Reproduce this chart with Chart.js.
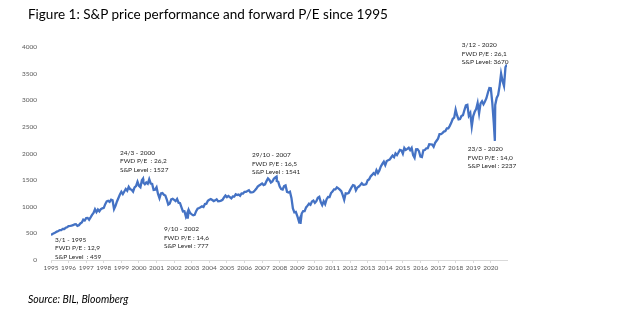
<!DOCTYPE html>
<html>
<head>
<meta charset="utf-8">
<script src="https://cdn.jsdelivr.net/npm/chart.js@4.4.0/dist/chart.umd.min.js"></script>
<style>
  body { margin: 0; background: #fff; }
  #wrap { position: relative; width: 628px; height: 321px; }
  #title { position: absolute; left: 28px; top: 6px; font: 13.5px Lato, sans-serif; color: #000; white-space: nowrap; }
  #source { position: absolute; left: 28px; top: 293px; font: italic 10.5px Lato, sans-serif; color: #000; }
  canvas { position: absolute; left: 0; top: 0; }
</style>
</head>
<body>
<div id="wrap">
  <canvas id="chart" width="628" height="321"></canvas>
  <div id="title">Figure 1: S&amp;P price performance and forward P/E since 1995</div>
  <div id="source">Source: BIL, Bloomberg</div>
</div>
<script>
// monthly S&P 500 levels, 1995 - 2020
var years = [1995, 1996, 1997, 1998, 1999, 2000, 2001, 2002, 2003, 2004, 2005, 2006, 2007,
             2008, 2009, 2010, 2011, 2012, 2013, 2014, 2015, 2016, 2017, 2018, 2019, 2020];
var monthly = [
  [470, 487, 501, 515, 533, 545, 562, 562, 584, 582, 605, 616],
  [636, 640, 645, 654, 669, 671, 640, 652, 687, 705, 757, 741],
  [786, 791, 757, 801, 848, 885, 954, 899, 947, 915, 955, 970],
  [980, 1049, 1102, 1112, 1091, 1134, 1121, 957, 1017, 1099, 1164, 1229],
  [1280, 1238, 1286, 1335, 1302, 1373, 1329, 1320, 1283, 1363, 1389, 1469],
  [1394, 1366, 1499, 1452, 1421, 1455, 1431, 1518, 1437, 1429, 1315, 1320],
  [1366, 1240, 1160, 1249, 1256, 1224, 1211, 1134, 1041, 1060, 1139, 1148],
  [1130, 1107, 1147, 1076, 1067, 990, 912, 916, 815, 886, 936, 880],
  [856, 841, 848, 917, 964, 975, 990, 1008, 996, 1051, 1058, 1112],
  [1131, 1145, 1126, 1107, 1121, 1141, 1102, 1104, 1115, 1130, 1174, 1212],
  [1181, 1204, 1181, 1157, 1192, 1191, 1234, 1220, 1229, 1207, 1249, 1248],
  [1280, 1281, 1295, 1311, 1270, 1270, 1277, 1304, 1336, 1378, 1401, 1418],
  [1438, 1407, 1421, 1482, 1531, 1503, 1455, 1474, 1527, 1549, 1481, 1468],
  [1379, 1331, 1323, 1386, 1400, 1280, 1267, 1283, 1166, 969, 896, 903],
  [826, 735, 798, 873, 919, 919, 987, 1021, 1057, 1036, 1096, 1115],
  [1074, 1104, 1169, 1187, 1089, 1031, 1102, 1049, 1141, 1183, 1181, 1258],
  [1286, 1327, 1326, 1364, 1345, 1321, 1292, 1219, 1131, 1253, 1247, 1258],
  [1312, 1366, 1408, 1398, 1310, 1362, 1379, 1407, 1441, 1412, 1416, 1426],
  [1498, 1515, 1569, 1598, 1631, 1606, 1686, 1633, 1682, 1757, 1806, 1848],
  [1783, 1859, 1872, 1884, 1924, 1960, 1931, 2003, 1972, 2018, 2068, 2059],
  [1995, 2105, 2068, 2086, 2107, 2063, 2104, 1972, 1920, 2079, 2080, 2044],
  [1940, 1932, 2060, 2065, 2097, 2099, 2174, 2171, 2168, 2126, 2199, 2239],
  [2279, 2364, 2363, 2384, 2412, 2423, 2470, 2472, 2519, 2575, 2648, 2674],
  [2824, 2714, 2641, 2648, 2705, 2718, 2816, 2902, 2914, 2711, 2760, 2507],
  [2704, 2784, 2834, 2946, 2752, 2942, 2980, 2926, 2977, 3038, 3141, 3231],
  [3226, 2954, 2585, 2912, 3044, 3100, 3271, 3500, 3363, 3270, 3622, 3670]
];
// extra points for the highs and lows that are labelled
var extremes = [
  { x: 2000.23, y: 1527 }, { x: 2002.77, y: 777 }, { x: 2007.82, y: 1565 },
  { x: 2009.18, y: 677 }, { x: 2020.23, y: 2237 }
];
// annotations (date, P/E, level) anchored in chart coordinates
var notes = [
  { x: 1995.23, y: 380, lines: ['3/1 - 1995', 'FWD P/E : 12,9', 'S&P Level  : 459'] },
  { x: 1998.92, y: 2015, lines: ['24/3 - 2000', 'FWD P/E  : 26,2', 'S&P Level : 1527'] },
  { x: 2001.42, y: 582, lines: ['9/10 - 2002', 'FWD P/E : 14,6', 'S&P Level : 777'] },
  { x: 2006.42, y: 1972, lines: ['29/10 - 2007', 'FWD P/E : 16,5', 'S&P Level : 1541'] },
  { x: 2018.35, y: 4038, lines: ['3/12 - 2020', 'FWD P/E : 26,1', 'S&P Level: 3670'] },
  { x: 2018.69, y: 2085, lines: ['23/3 - 2020', 'FWD P/E : 14,0', 'S&P Level : 2237'] }
];

var points = [];
years.forEach(function (yr, i) {
    monthly[i].forEach(function (v, m) {
        points.push({ x: yr + m / 12, y: v });
    });
});
points = points.concat(extremes).sort(function (a, b) { return a.x - b.x; });

var notesPlugin = {
    id: 'notes',
    afterDatasetsDraw: function (chart) {
        var ctx = chart.ctx;
        var xs = chart.scales.x, ys = chart.scales.y;
        ctx.save();
        ctx.font = '6.5px Lato, sans-serif';
        ctx.fillStyle = '#262626';
        ctx.textBaseline = 'middle';
        notes.forEach(function (n) {
            var px = xs.getPixelForValue(n.x), py = ys.getPixelForValue(n.y);
            n.lines.forEach(function (t, k) {
                ctx.fillText(t, px, py + k * 8.5);
            });
        });
        ctx.restore();
    }
};

const ctx = document.getElementById('chart');
var myLineChart = new Chart(ctx, {
    type: 'line',
    data: {
        datasets: [
            {
                label: 'S&P 500',
                data: points,
                borderColor: '#4472C4',
                borderWidth: 2.3,
                pointRadius: 0,
                tension: 0,
            },
        ],
    },
    options: {
        responsive: false,
        animation: false,
        layout: { padding: { top: 47, right: 121, bottom: 0, left: 0 } },
        plugins: { legend: { display: false }, tooltip: { enabled: false } },
        scales: {
            x: {
                type: 'linear',
                min: 1995,
                max: 2020.92,
                afterFit: function (s) { s.height = 61; },
                afterBuildTicks: function (s) {
                    s.ticks = years.map(function (y) { return { value: y }; });
                },
                ticks: {
                    autoSkip: false,
                    maxRotation: 0,
                    padding: 1,
                    color: '#595959',
                    font: { family: 'Lato, sans-serif', size: 6.5 },
                    callback: function (v) { return String(v); },
                },
                grid: { drawOnChartArea: false, tickLength: 3, color: '#d9d9d9' },
                border: { color: '#d9d9d9' },
            },
            y: {
                min: 0,
                max: 4000,
                afterFit: function (s) { s.width = 51; },
                ticks: {
                    stepSize: 500,
                    padding: 6,
                    color: '#595959',
                    font: { family: 'Lato, sans-serif', size: 6.5 },
                    callback: function (v) { return String(v); },
                },
                grid: { display: false },
                border: { display: false },
            },
        },
    },
    plugins: [notesPlugin],
});
</script>
</body>
</html>
